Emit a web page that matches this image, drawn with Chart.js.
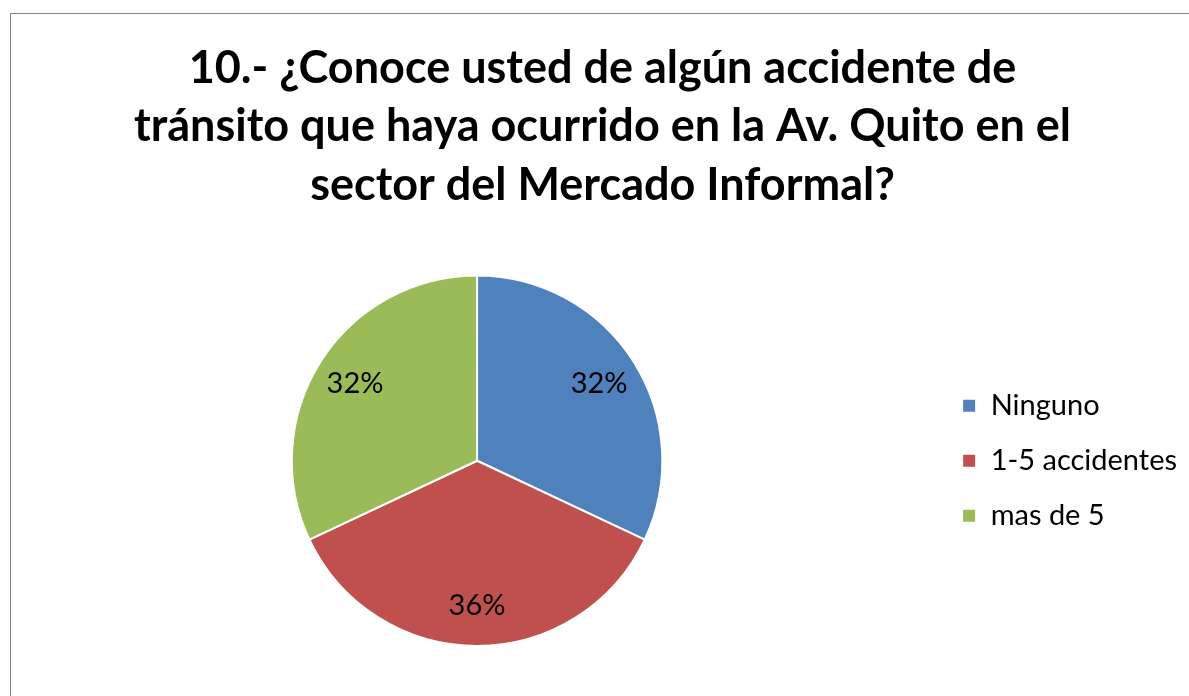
<!DOCTYPE html>
<html>
<head>
<meta charset="utf-8">
<script src="https://cdn.jsdelivr.net/npm/chart.js@4.4.0/dist/chart.umd.min.js"></script>
<style>
  html, body { margin: 0; padding: 0; background: #fff; overflow: hidden; }
  #frame {
    position: absolute; left: 10px; top: 13px;
    width: 1182px; height: 690px;
    border: 1px solid #868686;
  }
</style>
</head>
<body>
<div id="frame"><canvas id="pieChart" width="1182" height="690"></canvas></div>
<script>
const titleLines = [
  "10.- ¿Conoce usted de algún accidente de",
  "tránsito que haya ocurrido en la Av. Quito en el",
  "sector del Mercado Informal?"
];
const categories = ["Ninguno", "1-5 accidentes", "mas de 5"];
const percents = [32, 36, 32];
const sliceColors = ["#4F81BD", "#C0504D", "#9BBB59"];

// draws the % labels inside each slice
const sliceLabels = {
  id: "sliceLabels",
  afterDatasetsDraw(chart) {
    const ctx = chart.ctx;
    const meta = chart.getDatasetMeta(0);
    ctx.save();
    ctx.font = "29px Lato";
    ctx.fillStyle = "#000";
    ctx.textAlign = "center";
    ctx.textBaseline = "middle";
    meta.data.forEach((arc, i) => {
      const mid = (arc.startAngle + arc.endAngle) / 2;
      const r = arc.outerRadius * 0.78;
      ctx.fillText(percents[i] + "%", arc.x + Math.cos(mid) * r, arc.y + Math.sin(mid) * r);
    });
    ctx.restore();
  }
};

new Chart(document.getElementById("pieChart"), {
  type: "pie",
  data: {
    labels: categories,
    datasets: [{
      data: percents,
      backgroundColor: sliceColors,
      borderColor: "#ffffff",
      borderWidth: 2,
      hoverOffset: 0
    }]
  },
  options: {
    responsive: false,
    animation: false,
    events: [],
    layout: { padding: { left: 7, right: 6, bottom: 57, top: 0 } },
    plugins: {
      title: {
        display: true,
        text: titleLines,
        color: "#000",
        font: { family: "Lato", size: 45, weight: "bold", lineHeight: 1.3 },
        padding: { top: 25, bottom: 60 }
      },
      legend: {
        position: "right",
        fullSize: false,
        labels: {
          color: "#000",
          font: { family: "Lato", size: 29 },
          boxWidth: 14,
          boxHeight: 14,
          padding: 26
        }
      },
      tooltip: { enabled: false }
    }
  },
  plugins: [sliceLabels]
});
</script>
</body>
</html>
